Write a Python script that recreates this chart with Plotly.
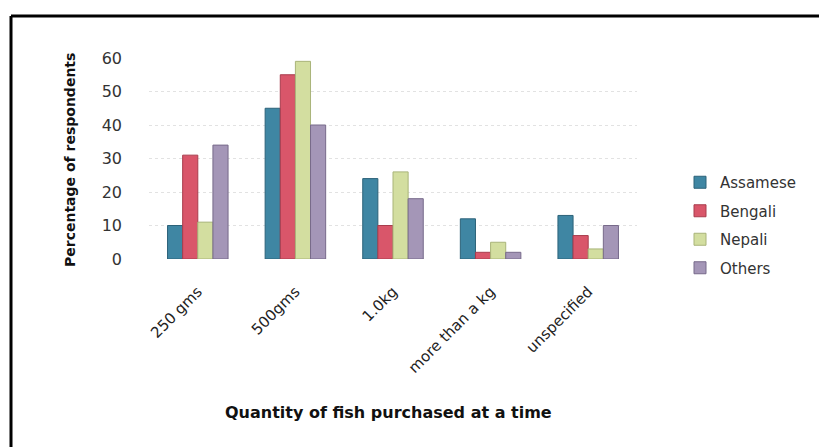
import plotly.graph_objects as go

# Quantity of fish purchased at a time, by community (% of respondents)
categories = ["250 gms", "500gms", "1.0kg", "more than a kg", "unspecified"]
assamese = [10, 45, 24, 12, 13]
bengali = [31, 55, 10, 2, 7]
nepali = [11, 59, 26, 5, 3]
others = [34, 40, 18, 2, 10]

series_names = ["Assamese", "Bengali", "Nepali", "Others"]
series_values = [assamese, bengali, nepali, others]
colors = ["#3f86a3", "#d9566a", "#d3dea0", "#a496b7"]
edge_colors = ["#2c6279", "#a83d4d", "#a9b479", "#776a8a"]
y_ticks = [0, 10, 20, 30, 40, 50, 60]

W, H = 819, 447
L, R, T, B = 149, 182, 58, 188

fig = go.Figure()
for i, (name, vals) in enumerate(zip(series_names, series_values)):
    fig.add_trace(go.Bar(
        x=categories, y=vals, name=name,
        legendgroup=name,
        marker=dict(color=colors[i], line=dict(color=edge_colors[i], width=1)),
    ))

plot_w = W - L - R
plot_h = H - T - B

def px_x(x):
    return (x - L) / plot_w

def px_y(y):
    return (H - B - y) / plot_h

fig.update_layout(
    width=W, height=H,
    margin=dict(l=L, r=R, t=T, b=B),
    paper_bgcolor="white", plot_bgcolor="white",
    barmode="group", bargap=0.38, bargroupgap=0.0,
    font=dict(family="DejaVu Sans", color="#222222"),
    showlegend=True,
    legend=dict(
        x=px_x(680), y=px_y(166), xanchor="left", yanchor="top",
        font=dict(family="DejaVu Sans", size=15, color="#333333"),
        tracegroupgap=6, itemwidth=30,
        bgcolor="rgba(0,0,0,0)",
    ),
    xaxis=dict(
        showline=False, showgrid=False, ticks="",
        tickangle=-45, ticklabelstandoff=20,
        tickfont=dict(family="DejaVu Sans", size=15, color="#222222"),
    ),
    yaxis=dict(
        range=[0, 60], tickvals=y_ticks,
        showgrid=True, gridcolor="#e2e2e2", griddash="dot", gridwidth=1,
        zeroline=False, showline=False, ticks="",
        ticklabelstandoff=26,
        tickfont=dict(family="DejaVu Sans", size=16, color="#333333"),
    ),
    annotations=[
        dict(text="<b>Percentage of respondents</b>", textangle=-90,
             xref="paper", yref="paper", x=px_x(70), y=px_y(160),
             xanchor="center", yanchor="middle", showarrow=False,
             font=dict(family="DejaVu Sans", size=14, color="#111111")),
        dict(text="<b>Quantity of fish purchased at a time</b>",
             xref="paper", yref="paper", x=px_x(388), y=px_y(413),
             xanchor="center", yanchor="middle", showarrow=False,
             font=dict(family="DejaVu Sans", size=16, color="#111111")),
    ],
    shapes=[
        dict(type="line", xref="paper", yref="paper",
             x0=px_x(11), x1=px_x(W + 5), y0=px_y(16), y1=px_y(16),
             line=dict(color="black", width=3)),
        dict(type="line", xref="paper", yref="paper",
             x0=px_x(11), x1=px_x(11), y0=px_y(16), y1=px_y(H + 5),
             line=dict(color="black", width=3)),
    ],
)

fig.write_html("out.html")
